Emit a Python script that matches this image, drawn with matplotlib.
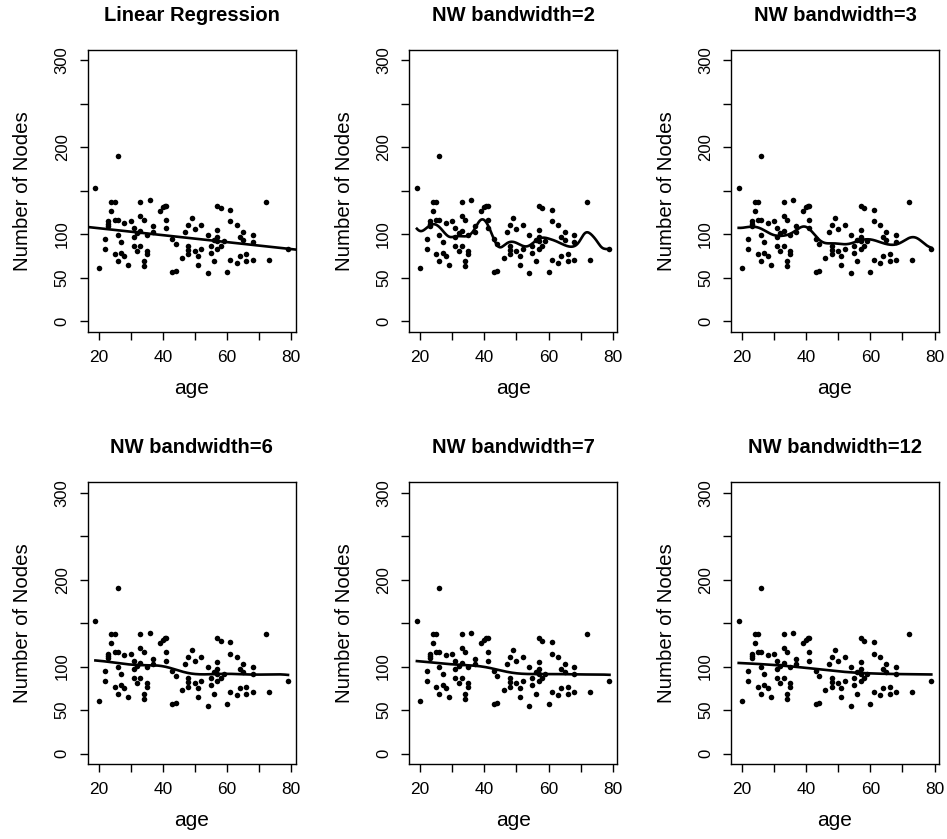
import numpy as np
import matplotlib
matplotlib.use("Agg")
import matplotlib.pyplot as plt

plt.rcParams['font.family'] = ['Liberation Sans', 'DejaVu Sans']

age = [19, 20, 26, 22, 22, 23, 23, 23, 24, 25, 24, 25, 26, 26, 27, 25, 26, 27, 28, 29,
       28, 30, 31, 31, 31, 32, 32, 33, 33, 34, 33, 33, 34, 34, 35, 35, 35, 36, 37, 37,
       39, 40, 40.6, 41, 41, 41, 43, 44, 43, 44, 46, 47,
       48, 49, 48, 48, 48, 50, 50, 51, 51, 52, 52, 54, 54, 55, 55, 56, 56, 57, 58, 57,
       57, 57, 58, 57, 59, 60, 61, 61, 61, 63, 63, 64, 65, 65, 64, 66, 66, 68, 68, 68,
       72, 73, 79]
nodes = [153, 61, 190, 95, 83, 115, 112, 110, 137, 137, 127, 117, 117, 99, 91, 77, 69, 79, 75, 65,
         113, 115, 107, 97, 87, 81, 101, 137, 121, 117, 104, 87, 69, 63, 81, 77, 99, 139, 109, 103,
         127, 131, 133, 133, 117, 107, 95, 89, 57, 58, 73, 103,
         111, 119, 87, 82, 77, 81, 106, 75, 65, 111, 83, 99, 55, 87, 79, 94, 69, 133, 130, 105,
         97, 92, 87, 83, 92, 57, 128, 115, 71, 111, 67, 97, 94, 103, 75, 77, 69, 99, 91, 71,
         137, 71, 83]

titles = ["Linear Regression", "NW bandwidth=2", "NW bandwidth=3",
          "NW bandwidth=6", "NW bandwidth=7", "NW bandwidth=12"]
bandwidths = [None, 2, 3, 6, 7, 12]

y_ticks = [0, 50, 100, 150, 200, 250, 300]
y_ticklabels = ["0", "50", "100", "", "200", "", "300"]
x_ticks = [20, 30, 40, 50, 60, 70, 80]
x_ticklabels = ["20", "", "40", "", "60", "", "80"]

x = np.array(age, dtype=float)
y = np.array(nodes, dtype=float)

W, H = 947, 839
fig = plt.figure(figsize=(W / 100, H / 100), dpi=100)

lefts = [87.7, 409.2, 731.0]
tops = [50, 482.3]
pw, ph = 208, 281.7

xmin, xmax = x.min(), x.max()
xr = xmax - xmin
xlim = (xmin - 0.04 * xr, xmax + 0.04 * xr)
ylim = (0 - 0.04 * 300, 300 + 0.04 * 300)

for i, (t, bw) in enumerate(zip(titles, bandwidths)):
    r, c = divmod(i, 3)
    ax = fig.add_axes([lefts[c] / W, 1 - (tops[r] + ph) / H, pw / W, ph / H])
    ax.scatter(x, y, s=16, color='black', linewidths=0, zorder=3)
    if bw is None:
        b1, b0 = np.polyfit(x, y, 1)
        xx = np.array(xlim)
        ax.plot(xx, b0 + b1 * xx, color='black', lw=1.9)
    else:
        grid = np.linspace(xmin, xmax, 400)
        w = np.exp(-0.5 * ((grid[:, None] - x[None, :]) / bw) ** 2)
        fit = (w * y).sum(axis=1) / w.sum(axis=1)
        ax.plot(grid, fit, color='black', lw=1.9)
    ax.set_xlim(xlim)
    ax.set_ylim(ylim)
    ax.set_yticks(y_ticks)
    ax.set_yticklabels(y_ticklabels, rotation=90, va='center', fontsize=12)
    ax.set_xticks(x_ticks)
    ax.set_xticklabels(x_ticklabels, fontsize=12.5)
    ax.tick_params(direction='out', length=6, width=1, pad=7)
    for s in ax.spines.values():
        s.set_linewidth(1)
    ax.set_xlabel("age", fontsize=15, labelpad=10)
    ax.set_ylabel("Number of Nodes", fontsize=14.7, labelpad=16)
    ax.set_title(t, fontsize=14.5, fontweight='bold', pad=21)

fig.savefig("out.png", dpi=100)
